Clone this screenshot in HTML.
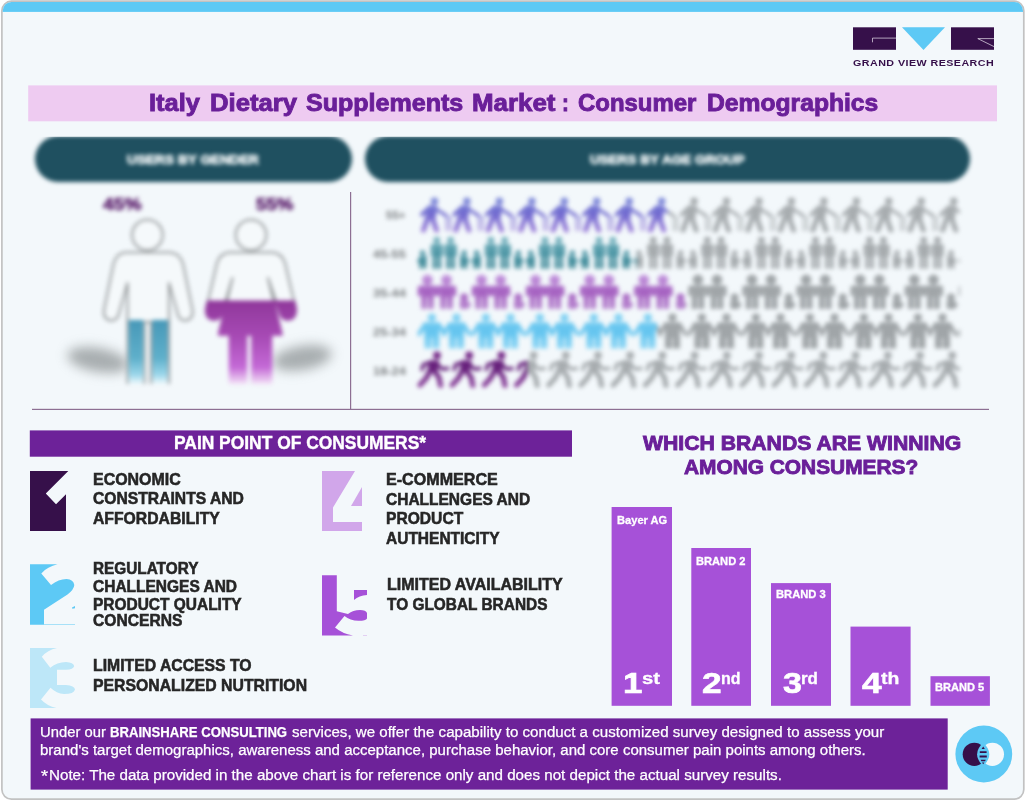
<!DOCTYPE html>
<html lang="en"><head><meta charset="utf-8"><title>Italy Dietary Supplements Market : Consumer Demographics</title>
<style>
html,body{margin:0;padding:0;background:#fff;}
body{width:1025px;height:801px;position:relative;overflow:hidden;font-family:"Liberation Sans",sans-serif;}
.abs{position:absolute;}
.t{position:absolute;white-space:nowrap;line-height:1;transform-origin:0 0;}
.zone{position:absolute;left:0;top:0;width:1025px;height:801px;clip-path:inset(136.7px 0 0 0);}
.blur2{filter:blur(2px);}
</style></head><body>
<svg class="abs" style="left:0;top:0" width="1025" height="801" viewBox="0 0 1025 801">
<defs><clipPath id="cardclip"><rect x="2.7" y="1.9" width="1020.3" height="796.4" rx="8.8"/></clipPath></defs>
<rect x="1.9" y="1.2" width="1021.9" height="797.9" rx="9.5" fill="#f3f8fb" stroke="#c2c2c2" stroke-width="1.7"/>
<rect x="0" y="1.9" width="1025" height="10" fill="#5dc9f5" clip-path="url(#cardclip)"/>
</svg>
<svg class="abs" style="left:850px;top:24px" width="150" height="30" viewBox="850 24 150 30">
<rect x="853" y="27.3" width="43" height="22.5" fill="#36104a"/>
<path d="M872.5 42.3V38.1H896" fill="none" stroke="#e9e4ee" stroke-width="0.7"/>
<polygon points="902,27.3 945,27.3 923.5,50" fill="#5dc9f5"/>
<rect x="951" y="27.3" width="43" height="22.5" fill="#36104a"/>
<path d="M994 38.6H977.8L994 46.6" fill="none" stroke="#e9e4ee" stroke-width="0.7"/>
</svg>
<div class="t " style="left:853.3px;top:57.9px;font-size:9.7px;color:#36104a;font-weight:700;transform:scaleX(1.1058);letter-spacing:0.4px;">GRAND VIEW RESEARCH</div>
<svg class="abs" style="left:27px;top:84px" width="971" height="39" viewBox="27 84 971 39"><rect x="28.2" y="85.4" width="968.8" height="35.9" fill="#eecbf1"/></svg>
<div class="t " style="left:148.9px;top:90.9px;font-size:24px;color:#6a1f99;font-weight:700;transform:scaleX(1.0578);-webkit-text-stroke:0.9px #6a1f99;">Italy</div>
<div class="t " style="left:210.0px;top:90.9px;font-size:24px;color:#6a1f99;font-weight:700;transform:scaleX(1.0679);-webkit-text-stroke:0.9px #6a1f99;">Dietary</div>
<div class="t " style="left:305.7px;top:90.9px;font-size:24px;color:#6a1f99;font-weight:700;transform:scaleX(1.0438);-webkit-text-stroke:0.9px #6a1f99;">Supplements</div>
<div class="t " style="left:471.5px;top:90.9px;font-size:24px;color:#6a1f99;font-weight:700;transform:scaleX(1.0779);-webkit-text-stroke:0.9px #6a1f99;">Market</div>
<div class="t " style="left:561.6px;top:90.9px;font-size:24px;color:#6a1f99;font-weight:700;transform:scaleX(0.8507);-webkit-text-stroke:0.9px #6a1f99;">:</div>
<div class="t " style="left:578.1px;top:90.9px;font-size:24px;color:#6a1f99;font-weight:700;transform:scaleX(0.9967);-webkit-text-stroke:0.9px #6a1f99;">Consumer</div>
<div class="t " style="left:706.6px;top:90.9px;font-size:24px;color:#6a1f99;font-weight:700;transform:scaleX(1.0275);-webkit-text-stroke:0.9px #6a1f99;">Demographics</div>
<svg class="abs" style="left:349px;top:191px" width="4" height="220" viewBox="349 191 4 220"><rect x="350.0" y="192.0" width="1.2" height="218.0" fill="#8d6f93"/></svg>
<svg class="abs" style="left:31px;top:407px" width="959" height="4" viewBox="31 407 959 4"><rect x="32.0" y="408.8" width="957.0" height="1.2" fill="#8d6f93"/></svg>
<div class="zone">
<div class="abs blur2" style="left:35px;top:135.6px;width:317px;height:46.6px;border-radius:23.3px;background:#1f5060;"></div>
<div class="abs blur2" style="left:365px;top:135.6px;width:605px;height:46.6px;border-radius:23.3px;background:#1f5060;"></div>
<div class="t blur2" style="left:127.0px;top:153.7px;font-size:12.5px;color:#f4f8f9;font-weight:700;transform:scaleX(1.0942);-webkit-text-stroke:0.7px #f4f8f9;">USERS BY GENDER</div>
<div class="t blur2" style="left:590.0px;top:153.7px;font-size:12.5px;color:#f4f8f9;font-weight:700;transform:scaleX(1.0798);-webkit-text-stroke:0.7px #f4f8f9;">USERS BY AGE GROUP</div>
<svg class="abs" style="left:40px;top:185px;filter:blur(1.9px)" width="310" height="222" viewBox="40 185 310 222">
<defs>
<linearGradient id="gm" x1="0" y1="0" x2="0" y2="1"><stop offset="0" stop-color="#4798b8"/><stop offset="0.6" stop-color="#5fb0cb"/><stop offset="0.85" stop-color="#9ad6ea"/><stop offset="1" stop-color="#eef8fc"/></linearGradient>
<linearGradient id="gf" gradientUnits="userSpaceOnUse" x1="0" y1="300" x2="0" y2="384"><stop offset="0" stop-color="#8f379a"/><stop offset="0.45" stop-color="#a84bb6"/><stop offset="0.8" stop-color="#c469d6"/><stop offset="1" stop-color="#f3e2f7"/></linearGradient>
<filter id="sh" x="-40%" y="-100%" width="180%" height="300%"><feGaussianBlur stdDeviation="5.5"/></filter>
<clipPath id="cf"><rect x="195" y="300.4" width="110" height="90"/></clipPath>
</defs>
<g filter="url(#sh)" fill="#8b9193" opacity="0.72">
<ellipse cx="98" cy="360" rx="31" ry="12" transform="rotate(10 98 360)"/>
<ellipse cx="302" cy="358" rx="30" ry="12" transform="rotate(-10 302 358)"/>
</g>
<!-- male -->
<g fill="#f5f9fb" stroke="#969a9c" stroke-width="2" stroke-linejoin="round">
<path id="mbody" d="M125 252.5H170Q180 253.5 183 264L192.5 310Q193.5 320 185 320.5Q179 320.5 177.5 313L169 283V383H151V322H144.5V383H127.5V283L119 313Q117.500 320.500 111.500 320.500Q103 320 104 310L113.500 264Q116.500 253.500 125 252.500Z"/>
<circle cx="147.4" cy="235" r="15.3"/>
</g>
<rect x="128.600" y="320" width="14.800" height="64" fill="url(#gm)"/>
<rect x="152.100" y="320" width="15.800" height="64" fill="url(#gm)"/>
<!-- female -->
<g fill="#f5f9fb" stroke="#969a9c" stroke-width="2" stroke-linejoin="round">
<path id="fbody" d="M229 252.500H273Q282 253.500 285 263L295.500 308Q296.500 319 288 319.500Q281.500 319.500 280 312.500L268 278L281.500 334.500H271V383H252.500V334.500H246V383H230V334.500H219L232.500 278L222 312.500Q220.500 319.500 214 319.500Q205 319 206.500 308L217 263Q220 253.500 229 252.500Z"/>
<circle cx="251" cy="235" r="15.3"/>
</g>
<g clip-path="url(#cf)"><use href="#fbody" fill="url(#gf)" stroke="url(#gf)" stroke-width="2.6" stroke-linejoin="round"/></g>
</svg>
<div class="t blur2" style="left:102.5px;top:195.5px;font-size:16.5px;color:#5f2470;font-weight:700;transform:scaleX(1.1658);-webkit-text-stroke:0.7px #5f2470;">45%</div>
<div class="t blur2" style="left:256.0px;top:195.5px;font-size:16.5px;color:#5f2470;font-weight:700;transform:scaleX(1.1355);-webkit-text-stroke:0.7px #5f2470;">55%</div>
<svg class="abs" style="left:360px;top:188px;filter:blur(2.2px)" width="612" height="212" viewBox="360 188 612 212">
<defs>
<g id="i1"><circle cx="16.5" cy="4.2" r="3.7"/><path d="M11 8L19.5 9L17.5 22L7 21Z"/><path d="M10.500 19L5.500 33M13.500 19L18.500 33" stroke-width="5.2" stroke-linecap="round" fill="none"/><path d="M16.500 11L29.500 19.500" stroke-width="3.1" fill="none"/><path d="M11.500 10.500L4 17.500" stroke-width="3.8" stroke-linecap="round" fill="none"/><path d="M28.6 18.5V34M32.2 19V34" stroke-width="1.9" fill="none" opacity="0.8"/></g>
<g id="i5"><circle cx="19" cy="4.8" r="3.9"/><path d="M11.5 9.5L21.5 10L19.5 22.5L9 21.5Z"/><path d="M12.500 20L8 28L2 34.500M16 20L21 27L22.500 35" stroke-width="5.2" stroke-linecap="round" stroke-linejoin="round" fill="none"/><path d="M18.500 13L24 18.500L30 18" stroke-width="3.4" stroke-linecap="round" stroke-linejoin="round" fill="none"/><path d="M12.500 12L5.500 14L4 19" stroke-width="3.6" stroke-linecap="round" stroke-linejoin="round" fill="none"/></g>
<g id="i2"><circle cx="4.5" cy="16.2" r="2.7"/><path d="M2.5 19.5H6.5Q8.5 19.5 8.5 22.0V24.6H8.1V24.5H7.8V32.0H5.1V25.6H3.9V32.0H1.2V24.5H0.9V24.6H0.5V22.0Q0.5 19.5 2.5 19.5Z"/><circle cx="18.8" cy="3.4" r="3.4"/><path d="M14.6 7.3H23.1Q25.1 7.3 25.1 9.8V19.2H23.4V12.3H23.1V32.0H19.4V20.2H18.2V32.0H14.6V12.3H14.2V19.2H12.6V9.8Q12.6 7.3 14.6 7.3Z"/><circle cx="32.6" cy="3.4" r="3.4"/><path d="M28.4 7.3H36.9Q38.9 7.3 38.9 9.8V19.2H37.1V12.3H36.9V32.0H33.2V20.2H32.0V32.0H28.4V12.3H28.1V19.2H26.4V9.8Q26.4 7.3 28.4 7.3Z"/><circle cx="46.2" cy="16.2" r="2.7"/><path d="M44.2 19.5H48.2Q50.2 19.5 50.2 22.0V24.6H49.8V24.5H49.5V32.0H46.8V25.6H45.6V32.0H43.0V24.5H42.7V24.6H42.2V22.0Q42.2 19.5 44.2 19.5Z"/><path d="M42.2 18L52.2 24.500L42.2 31Z"/><path d="M8.5 18L-1.5 24.500L8.5 31Z"/></g>
<g id="i3"><circle cx="9.4" cy="5.3" r="5.3"/><path d="M1.7 11.1H17.1Q19.1 11.1 19.1 13.6V21.4H16.0V16.1H15.7V34.5H10.0V22.4H8.8V34.5H3.2V16.1H2.9V21.4H-0.3V13.6Q-0.3 11.1 1.7 11.1Z"/><circle cx="28.5" cy="5.3" r="5.3"/><path d="M20.8 11.1H36.2Q38.2 11.1 38.2 13.6V21.4H35.0V16.1H34.8V34.5H29.1V22.4H27.9V34.5H22.2V16.1H21.9V21.4H18.8V13.6Q18.8 11.1 20.8 11.1Z"/><g><circle cx="46.1" cy="23" r="3.9"/><path d="M41.6 26.500H50.1L53.1 30.5L49.6 34.500H42.1Z"/></g></g>
<g id="i4"><circle cx="13.9" cy="4.1" r="4.1"/><path d="M5.9 8.7H21.9L28.4 19.4L26.9 23.9L21.4 15.7V35.0H14.5V24.4H13.3V35.0H6.4V15.7L0.9 23.9L-0.6 19.4Z"/><circle cx="38.5" cy="4.1" r="4.1"/><path d="M30.5 8.7H46.5L53.0 19.4L51.5 23.9L46.0 15.7V35.0H39.1V24.4H37.9V35.0H31.0V15.7L25.5 23.9L24.0 19.4Z"/></g>
<linearGradient id="g1c" gradientUnits="userSpaceOnUse" x1="0" y1="0" x2="0" y2="35"><stop offset="0" stop-color="#8493dc"/><stop offset="0.45" stop-color="#6f6acf"/><stop offset="1" stop-color="#a083da"/></linearGradient>
<clipPath id="cg1c"><rect x="412" y="192.0" width="256" height="48"/></clipPath>
<clipPath id="dg1c"><rect x="668" y="192.0" width="292" height="48"/></clipPath>
<linearGradient id="g2c" gradientUnits="userSpaceOnUse" x1="0" y1="0" x2="0" y2="32"><stop offset="0" stop-color="#7fb8c4"/><stop offset="0.5" stop-color="#4e97a6"/><stop offset="1" stop-color="#3f8896"/></linearGradient>
<clipPath id="cg2c"><rect x="412" y="231.8" width="224.5" height="48"/></clipPath>
<clipPath id="dg2c"><rect x="636.5" y="231.8" width="323.5" height="48"/></clipPath>
<linearGradient id="g3c" gradientUnits="userSpaceOnUse" x1="0" y1="0" x2="0" y2="34.5"><stop offset="0" stop-color="#c69be0"/><stop offset="0.5" stop-color="#a45fc0"/><stop offset="1" stop-color="#b98ad0"/></linearGradient>
<clipPath id="cg3c"><rect x="412" y="269.5" width="273.5" height="48"/></clipPath>
<clipPath id="dg3c"><rect x="685.5" y="269.5" width="274.5" height="48"/></clipPath>
<linearGradient id="g4c" gradientUnits="userSpaceOnUse" x1="0" y1="0" x2="0" y2="35"><stop offset="0" stop-color="#8ad4f3"/><stop offset="0.5" stop-color="#62c4ef"/><stop offset="1" stop-color="#8ed6f4"/></linearGradient>
<clipPath id="cg4c"><rect x="412" y="308.5" width="245" height="48"/></clipPath>
<clipPath id="dg4c"><rect x="657" y="308.5" width="303" height="48"/></clipPath>
<linearGradient id="g5c" gradientUnits="userSpaceOnUse" x1="0" y1="0" x2="0" y2="36"><stop offset="0" stop-color="#7a2b8c"/><stop offset="0.45" stop-color="#65207a"/><stop offset="1" stop-color="#8f479f"/></linearGradient>
<clipPath id="cg5c"><rect x="412" y="345.5" width="115" height="48"/></clipPath>
<clipPath id="dg5c"><rect x="527" y="345.5" width="433" height="48"/></clipPath>
</defs>
<g clip-path="url(#dg1c)" fill="#a8adb0" stroke="#a8adb0" stroke-width="0"><use href="#i1" x="418.0" y="197.0"/><use href="#i1" x="450.4" y="197.0"/><use href="#i1" x="482.9" y="197.0"/><use href="#i1" x="515.4" y="197.0"/><use href="#i1" x="547.8" y="197.0"/><use href="#i1" x="580.2" y="197.0"/><use href="#i1" x="612.7" y="197.0"/><use href="#i1" x="645.2" y="197.0"/><use href="#i1" x="677.6" y="197.0"/><use href="#i1" x="710.0" y="197.0"/><use href="#i1" x="742.5" y="197.0"/><use href="#i1" x="775.0" y="197.0"/><use href="#i1" x="807.4" y="197.0"/><use href="#i1" x="839.9" y="197.0"/><use href="#i1" x="872.3" y="197.0"/><use href="#i1" x="904.8" y="197.0"/><use href="#i1" x="937.2" y="197.0"/></g>
<g clip-path="url(#cg1c)" fill="url(#g1c)" stroke="url(#g1c)" stroke-width="0"><use href="#i1" x="418.0" y="197.0"/><use href="#i1" x="450.4" y="197.0"/><use href="#i1" x="482.9" y="197.0"/><use href="#i1" x="515.4" y="197.0"/><use href="#i1" x="547.8" y="197.0"/><use href="#i1" x="580.2" y="197.0"/><use href="#i1" x="612.7" y="197.0"/><use href="#i1" x="645.2" y="197.0"/></g>
<g clip-path="url(#dg2c)" fill="#a6abae" stroke="#a6abae" stroke-width="0"><use href="#i2" x="418.0" y="236.8"/><use href="#i2" x="472.1" y="236.8"/><use href="#i2" x="526.2" y="236.8"/><use href="#i2" x="580.3" y="236.8"/><use href="#i2" x="634.4" y="236.8"/><use href="#i2" x="688.5" y="236.8"/><use href="#i2" x="742.6" y="236.8"/><use href="#i2" x="796.7" y="236.8"/><use href="#i2" x="850.8" y="236.8"/><use href="#i2" x="904.9" y="236.8"/><use href="#i2" x="959.0" y="236.8"/></g>
<g clip-path="url(#cg2c)" fill="url(#g2c)" stroke="url(#g2c)" stroke-width="0"><use href="#i2" x="418.0" y="236.8"/><use href="#i2" x="472.1" y="236.8"/><use href="#i2" x="526.2" y="236.8"/><use href="#i2" x="580.3" y="236.8"/><use href="#i2" x="634.4" y="236.8"/></g>
<g clip-path="url(#dg3c)" fill="#a0a5a8" stroke="#a0a5a8" stroke-width="0"><use href="#i3" x="418.0" y="274.5"/><use href="#i3" x="472.1" y="274.5"/><use href="#i3" x="526.2" y="274.5"/><use href="#i3" x="580.3" y="274.5"/><use href="#i3" x="634.4" y="274.5"/><use href="#i3" x="688.5" y="274.5"/><use href="#i3" x="742.6" y="274.5"/><use href="#i3" x="796.7" y="274.5"/><use href="#i3" x="850.8" y="274.5"/><use href="#i3" x="904.9" y="274.5"/><use href="#i3" x="959.0" y="274.5"/></g>
<g clip-path="url(#cg3c)" fill="url(#g3c)" stroke="url(#g3c)" stroke-width="0"><use href="#i3" x="418.0" y="274.5"/><use href="#i3" x="472.1" y="274.5"/><use href="#i3" x="526.2" y="274.5"/><use href="#i3" x="580.3" y="274.5"/><use href="#i3" x="634.4" y="274.5"/></g>
<g clip-path="url(#dg4c)" fill="#a0a5a8" stroke="#a0a5a8" stroke-width="0"><use href="#i4" x="418.0" y="313.5"/><use href="#i4" x="472.0" y="313.5"/><use href="#i4" x="526.0" y="313.5"/><use href="#i4" x="580.0" y="313.5"/><use href="#i4" x="634.0" y="313.5"/><use href="#i4" x="688.0" y="313.5"/><use href="#i4" x="742.0" y="313.5"/><use href="#i4" x="796.0" y="313.5"/><use href="#i4" x="850.0" y="313.5"/><use href="#i4" x="904.0" y="313.5"/><use href="#i4" x="958.0" y="313.5"/></g>
<g clip-path="url(#cg4c)" fill="url(#g4c)" stroke="url(#g4c)" stroke-width="0"><use href="#i4" x="418.0" y="313.5"/><use href="#i4" x="472.0" y="313.5"/><use href="#i4" x="526.0" y="313.5"/><use href="#i4" x="580.0" y="313.5"/><use href="#i4" x="634.0" y="313.5"/></g>
<g clip-path="url(#dg5c)" fill="#a8adb0" stroke="#a8adb0" stroke-width="0"><use href="#i5" x="418.0" y="350.5"/><use href="#i5" x="450.2" y="350.5"/><use href="#i5" x="482.4" y="350.5"/><use href="#i5" x="514.6" y="350.5"/><use href="#i5" x="546.8" y="350.5"/><use href="#i5" x="579.0" y="350.5"/><use href="#i5" x="611.2" y="350.5"/><use href="#i5" x="643.4" y="350.5"/><use href="#i5" x="675.6" y="350.5"/><use href="#i5" x="707.8" y="350.5"/><use href="#i5" x="740.0" y="350.5"/><use href="#i5" x="772.2" y="350.5"/><use href="#i5" x="804.4" y="350.5"/><use href="#i5" x="836.6" y="350.5"/><use href="#i5" x="868.8" y="350.5"/><use href="#i5" x="901.0" y="350.5"/><use href="#i5" x="933.2" y="350.5"/></g>
<g clip-path="url(#cg5c)" fill="url(#g5c)" stroke="url(#g5c)" stroke-width="0"><use href="#i5" x="418.0" y="350.5"/><use href="#i5" x="450.2" y="350.5"/><use href="#i5" x="482.4" y="350.5"/><use href="#i5" x="514.6" y="350.5"/></g>
</svg>
<div class="t " style="left:386.0px;top:209.6px;font-size:11.5px;color:#7d8083;font-weight:700;transform:scaleX(0.9996);filter:blur(1.9px);">55+</div>
<div class="t " style="left:372.6px;top:249.1px;font-size:11.5px;color:#7d8083;font-weight:700;transform:scaleX(1.1185);filter:blur(1.9px);">45-55</div>
<div class="t " style="left:372.6px;top:288.1px;font-size:11.5px;color:#7d8083;font-weight:700;transform:scaleX(1.1185);filter:blur(1.9px);">35-44</div>
<div class="t " style="left:372.6px;top:326.6px;font-size:11.5px;color:#7d8083;font-weight:700;transform:scaleX(1.1185);filter:blur(1.9px);">25-34</div>
<div class="t " style="left:372.6px;top:365.6px;font-size:11.5px;color:#7d8083;font-weight:700;transform:scaleX(1.1185);filter:blur(1.9px);">18-24</div>
</div>
<svg class="abs" style="left:28px;top:429px" width="545" height="29" viewBox="28 429 545 29"><rect x="29.8" y="430.4" width="542.2" height="26.3" fill="#6d2299"/></svg>
<div class="t " style="left:174.3px;top:434.8px;font-size:17.9px;color:#ffffff;font-weight:700;transform:scaleX(0.9728);-webkit-text-stroke:0.4px #fff;">PAIN POINT OF CONSUMERS*</div>
<svg class="abs" style="left:25px;top:465px" width="60" height="250" viewBox="25 465 60 250">
<polygon points="30,471 68.3,471 45.8,493.6 56,504.2 66,494.3 66,531 30,531" fill="#36104a"/>
<path d="M30 564.3H57.5Q47.500 566.500 41.300 573.400L51 585Q58.500 579 66.500 579Q73.500 579.500 74.300 585Q74 589.500 67.500 594.500L44 609.800V624.2H75V624.8H30Z" fill="#5dc9f5"/>
<path d="M72 607.500L75 606V608.300L72.300 608.800Z" fill="#5dc9f5"/>
<path d="M30 648H57Q47.500 650 41.800 656.700L50.300 667.700Q57 662.300 66 662Q73.500 662.500 74.200 666Q73.500 669.500 66 669.800H57V685H66Q74.500 685.500 75 689.500Q74 694 64 694Q56.500 693.500 50.500 687.800L41 699.500Q47 706 56.500 708H30Z" fill="#bde7f8"/>
</svg>
<svg class="abs" style="left:317px;top:465px" width="60" height="180" viewBox="317 465 60 180">
<polygon points="322,471 355,471 333,507.500 333,522 362,522 362,531 322,531" fill="#d1a6ea"/>
<polygon points="362,487 362,506 351,506" fill="#d1a6ea"/>
<path d="M322 575.300H336.800V611.300L348 614Q353 610 360 610Q366 610.2 367 613V618.5Q366 620.800 358.500 620.800Q350 620.500 344.500 616L335 627.500Q342 633.500 353 635.500H322Z" fill="#a651d8"/>
<path d="M354 590H367V595Q359 595.500 354 600Z" fill="#a651d8"/>
<path d="M363 635.200H367V635.800H363Z" fill="#d9b5ee"/>
</svg>
<div class="t " style="left:92.9px;top:470.9px;font-size:16.3px;color:#262626;font-weight:700;transform:scaleX(0.9794);-webkit-text-stroke:0.55px #262626;">ECONOMIC</div>
<div class="t " style="left:92.9px;top:490.1px;font-size:16.3px;color:#262626;font-weight:700;transform:scaleX(0.9626);-webkit-text-stroke:0.55px #262626;">CONSTRAINTS AND</div>
<div class="t " style="left:92.9px;top:509.6px;font-size:16.3px;color:#262626;font-weight:700;transform:scaleX(0.9665);-webkit-text-stroke:0.55px #262626;">AFFORDABILITY</div>
<div class="t " style="left:92.9px;top:561.4px;font-size:15.6px;color:#262626;font-weight:700;transform:scaleX(0.9834);-webkit-text-stroke:0.55px #262626;">REGULATORY</div>
<div class="t " style="left:92.9px;top:579.0px;font-size:15.6px;color:#262626;font-weight:700;transform:scaleX(0.9936);-webkit-text-stroke:0.55px #262626;">CHALLENGES AND</div>
<div class="t " style="left:92.9px;top:596.5px;font-size:15.6px;color:#262626;font-weight:700;transform:scaleX(0.9918);-webkit-text-stroke:0.55px #262626;">PRODUCT QUALITY</div>
<div class="t " style="left:92.9px;top:613.4px;font-size:15.6px;color:#262626;font-weight:700;transform:scaleX(1.0014);-webkit-text-stroke:0.55px #262626;">CONCERNS</div>
<div class="t " style="left:92.9px;top:656.8px;font-size:16.3px;color:#262626;font-weight:700;transform:scaleX(0.9688);-webkit-text-stroke:0.55px #262626;">LIMITED ACCESS TO</div>
<div class="t " style="left:92.9px;top:676.7px;font-size:16.3px;color:#262626;font-weight:700;transform:scaleX(0.9699);-webkit-text-stroke:0.55px #262626;">PERSONALIZED NUTRITION</div>
<div class="t " style="left:385.7px;top:470.8px;font-size:16.3px;color:#262626;font-weight:700;transform:scaleX(0.9885);-webkit-text-stroke:0.55px #262626;">E-COMMERCE</div>
<div class="t " style="left:385.7px;top:490.7px;font-size:16.3px;color:#262626;font-weight:700;transform:scaleX(0.9523);-webkit-text-stroke:0.55px #262626;">CHALLENGES AND</div>
<div class="t " style="left:385.7px;top:509.9px;font-size:16.3px;color:#262626;font-weight:700;transform:scaleX(0.9591);-webkit-text-stroke:0.55px #262626;">PRODUCT</div>
<div class="t " style="left:385.7px;top:530.0px;font-size:16.3px;color:#262626;font-weight:700;transform:scaleX(0.9521);-webkit-text-stroke:0.55px #262626;">AUTHENTICITY</div>
<div class="t " style="left:386.9px;top:576.2px;font-size:16.3px;color:#262626;font-weight:700;transform:scaleX(0.9822);-webkit-text-stroke:0.55px #262626;">LIMITED AVAILABILITY</div>
<div class="t " style="left:386.9px;top:596.1px;font-size:16.3px;color:#262626;font-weight:700;transform:scaleX(0.9467);-webkit-text-stroke:0.55px #262626;">TO GLOBAL BRANDS</div>
<div class="t " style="left:642.6px;top:432.7px;font-size:20.6px;color:#6a1f99;font-weight:700;transform:scaleX(1.0289);-webkit-text-stroke:0.9px #6a1f99;">WHICH BRANDS ARE WINNING</div>
<div class="t " style="left:683.8px;top:456.9px;font-size:20.6px;color:#6a1f99;font-weight:700;transform:scaleX(1.0135);-webkit-text-stroke:0.9px #6a1f99;">AMONG CONSUMERS?</div>
<svg class="abs" style="left:610px;top:506px" width="63" height="201" viewBox="610 506 63 201"><rect x="611.6" y="507.0" width="60.4" height="198.8" fill="#a651d8"/></svg>
<svg class="abs" style="left:690px;top:547px" width="62" height="160" viewBox="690 547 62 160"><rect x="691.3" y="548.0" width="59.7" height="157.8" fill="#a651d8"/></svg>
<svg class="abs" style="left:770px;top:582px" width="62" height="125" viewBox="770 582 62 125"><rect x="771.0" y="583.1" width="60.0" height="122.7" fill="#a651d8"/></svg>
<svg class="abs" style="left:849px;top:625px" width="63" height="82" viewBox="849 625 63 82"><rect x="850.5" y="626.6" width="60.1" height="79.2" fill="#a651d8"/></svg>
<svg class="abs" style="left:929px;top:675px" width="62" height="32" viewBox="929 675 62 32"><rect x="930.5" y="676.2" width="59.4" height="29.6" fill="#a651d8"/></svg>
<div class="t " style="left:617.1px;top:515.3px;font-size:11.4px;color:#fff;font-weight:700;transform:scaleX(0.9761);-webkit-text-stroke:0.3px #fff;">Bayer AG</div>
<div class="t " style="left:696.2px;top:556.4px;font-size:11.4px;color:#fff;font-weight:700;transform:scaleX(0.9769);-webkit-text-stroke:0.3px #fff;">BRAND 2</div>
<div class="t " style="left:775.5px;top:589.1px;font-size:11.4px;color:#fff;font-weight:700;transform:scaleX(0.9828);-webkit-text-stroke:0.3px #fff;">BRAND 3</div>
<div class="t " style="left:935.1px;top:681.7px;font-size:11.4px;color:#fff;font-weight:700;transform:scaleX(0.9729);-webkit-text-stroke:0.3px #fff;">BRAND 5</div>
<div class="t " style="left:623.1px;top:669.4px;font-size:29px;color:#fff;font-weight:700;transform:scaleX(1.2028);-webkit-text-stroke:0.6px #fff;">1</div>
<div class="t " style="left:641.7px;top:670.1px;font-size:16.5px;color:#fff;font-weight:700;transform:scaleX(1.2268);-webkit-text-stroke:0.3px #fff;">st</div>
<div class="t " style="left:701.9px;top:669.4px;font-size:29px;color:#fff;font-weight:700;transform:scaleX(1.2152);-webkit-text-stroke:0.6px #fff;">2</div>
<div class="t " style="left:720.7px;top:670.1px;font-size:16.5px;color:#fff;font-weight:700;transform:scaleX(0.9673);-webkit-text-stroke:0.3px #fff;">nd</div>
<div class="t " style="left:783.1px;top:669.4px;font-size:29px;color:#fff;font-weight:700;transform:scaleX(1.1718);-webkit-text-stroke:0.6px #fff;">3</div>
<div class="t " style="left:801.2px;top:670.1px;font-size:16.5px;color:#fff;font-weight:700;transform:scaleX(1.0303);-webkit-text-stroke:0.3px #fff;">rd</div>
<div class="t " style="left:861.9px;top:669.4px;font-size:29px;color:#fff;font-weight:700;transform:scaleX(1.2152);-webkit-text-stroke:0.6px #fff;">4</div>
<div class="t " style="left:880.7px;top:670.1px;font-size:16.5px;color:#fff;font-weight:700;transform:scaleX(1.1750);-webkit-text-stroke:0.3px #fff;">th</div>
<svg class="abs" style="left:29px;top:717px" width="920" height="74" viewBox="29 717 920 74"><rect x="30.6" y="718.4" width="917.1" height="71.2" fill="#6d2299"/></svg>
<div class="t" style="left:39.7px;top:725.3px;font-size:14.9px;color:#fff;font-weight:400;transform:scaleX(0.9946);-webkit-text-stroke:0.25px #fff;">Under our</div>
<div class="t" style="left:109.6px;top:725.3px;font-size:14.9px;color:#fff;font-weight:700;transform:scaleX(0.8821);-webkit-text-stroke:0.25px #fff;">BRAINSHARE CONSULTING</div>
<div class="t" style="left:291.8px;top:725.3px;font-size:14.9px;color:#fff;font-weight:400;transform:scaleX(1.0141);-webkit-text-stroke:0.25px #fff;">services, we offer the capability to conduct a customized survey designed to assess your</div>
<div class="t " style="left:39.7px;top:743.3px;font-size:14.9px;color:#fff;font-weight:400;transform:scaleX(1.0082);-webkit-text-stroke:0.25px #fff;">brand's target demographics, awareness and acceptance, purchase behavior, and core consumer pain points among others.</div>
<div class="t " style="left:40.9px;top:767.7px;font-size:16.4px;color:#fff;font-weight:400;transform:scaleX(1.1125);-webkit-text-stroke:0.25px #fff;">*</div>
<div class="t " style="left:48.6px;top:767.5px;font-size:14.9px;color:#fff;font-weight:400;transform:scaleX(1.0181);-webkit-text-stroke:0.25px #fff;">Note: The data provided in the above chart is for reference only and does not depict the actual survey results.</div>
<svg class="abs" style="left:950px;top:720px" width="70" height="70" viewBox="950 720 70 70">
<circle cx="983.8" cy="754" r="28.4" fill="#5dc9f5"/>
<circle cx="992.4" cy="754.3" r="11.6" fill="#f3f8fb"/>
<circle cx="974.3" cy="754.3" r="11.6" fill="#36104a"/>
<path d="M983.2 742.6Q995.4 754.3 983.2 766Q971 754.3 983.2 742.6Z" fill="#5dc9f5"/>
<path d="M981.6 749L983.2 746.6L984.8 749ZM979.8 751.2H986.6V753.1H979.8ZM979.6 755.6H986.8V757.6H979.6ZM980.6 759.8H985.8L985 761.2H981.4ZM982 762.6H984.4L983.2 764.2Z" fill="#36104a"/>
</svg>
</body></html>
